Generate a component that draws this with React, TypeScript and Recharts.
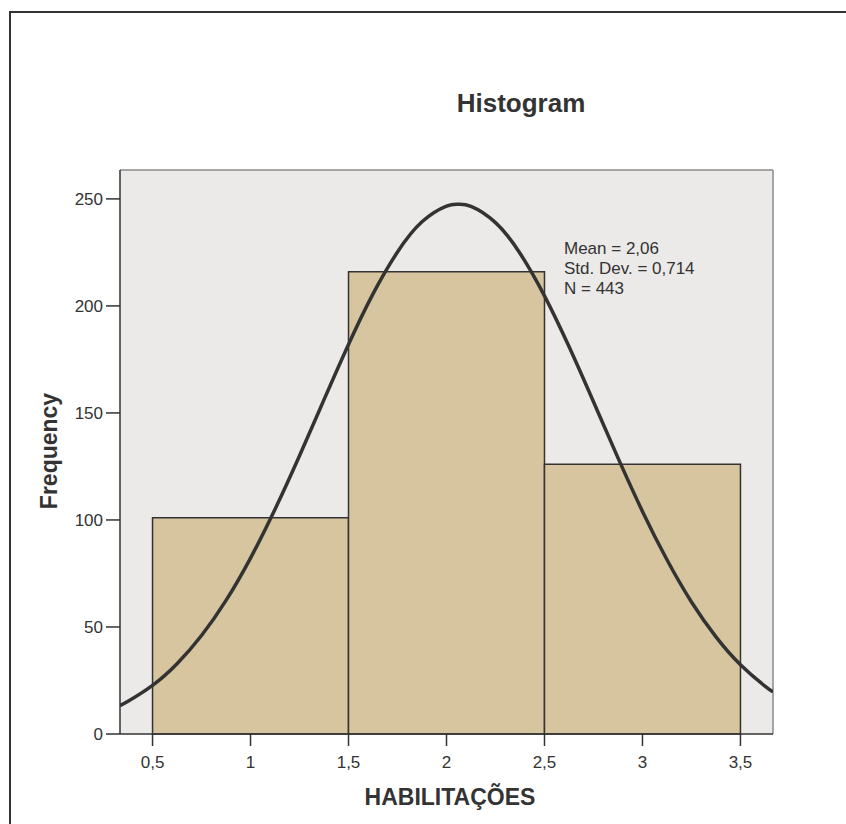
import React from 'react'
import { ComposedChart, Line, XAxis, YAxis, CartesianGrid, ReferenceArea, ReferenceLine } from 'recharts'

// histogram bins of HABILITAÇÕES
const binStart = [0.5, 1.5, 2.5]
const binEnd = [1.5, 2.5, 3.5]
const binCount = [101, 216, 126]

// normal curve
const curveX = [0.334, 0.375, 0.5, 0.625, 0.75, 0.875, 1, 1.125, 1.25, 1.375, 1.5, 1.625, 1.75, 1.875, 2, 2.06, 2.125, 2.25, 2.375, 2.5, 2.625, 2.75, 2.875, 3, 3.125, 3.25, 3.375, 3.5, 3.625, 3.666]
const curveY = [13.3, 15.3, 22.7, 32.8, 46, 62.4, 82.2, 105, 130, 156.2, 182, 205.6, 225.2, 239.3, 246.6, 247.5, 246.5, 238.9, 224.6, 204.7, 181, 155.2, 129, 104, 81.4, 61.7, 45.4, 32.4, 22.4, 19.7]

const xTicks = [0.5, 1, 1.5, 2, 2.5, 3, 3.5]
const yTicks = [0, 50, 100, 150, 200, 250]
const statLines = ['Mean = 2,06', 'Std. Dev. = 0,714', 'N = 443']

const xMin = 0.334
const xMax = 3.666
const yMax = 263.5

const font = '"Liberation Sans", Arial, sans-serif'
const ink = '#333333'

const XTick = (props: any) => {
  const { x, y, payload } = props
  return (
    <text x={x} y={y + 17} textAnchor="middle" fontSize={17} fill={ink} fontFamily={font}>
      {String(payload.value).replace('.', ',')}
    </text>
  )
}

const YTick = (props: any) => {
  const { x, y, payload } = props
  return (
    <text x={x} y={y + 6} textAnchor="end" fontSize={17} fill={ink} fontFamily={font}>
      {payload.value}
    </text>
  )
}

export default function App() {
  const data = curveX.map((x, i) => ({ x, y: curveY[i] }))

  return (
    <div style={{ position: 'absolute', left: 0, top: 0, width: 846, height: 824, overflow: 'hidden', background: '#fff', fontFamily: font }}>
      <div style={{ position: 'absolute', left: 0, top: 0 }}>
        <ComposedChart width={846} height={824} data={data} margin={{ top: 170, right: 73, bottom: 50, left: 0 }}>
          <CartesianGrid horizontal={false} vertical={false} fill="#EBEAE8" fillOpacity={1} />
          <XAxis
            dataKey="x"
            type="number"
            domain={[xMin, xMax]}
            ticks={xTicks}
            allowDataOverflow
            height={40}
            tickSize={12}
            tickMargin={5}
            tick={<XTick />}
            axisLine={{ stroke: ink, strokeWidth: 1.5 }}
            tickLine={{ stroke: ink, strokeWidth: 1.5 }}
          />
          <YAxis
            type="number"
            domain={[0, yMax]}
            ticks={yTicks}
            allowDataOverflow
            width={120}
            tickSize={14}
            tickMargin={3}
            tick={<YTick />}
            axisLine={{ stroke: ink, strokeWidth: 1.5 }}
            tickLine={{ stroke: ink, strokeWidth: 1.5 }}
          />
          <ReferenceLine y={yMax} stroke="#8a8a8a" strokeWidth={1.5} />
          <ReferenceLine x={xMax} stroke="#8a8a8a" strokeWidth={1.5} />
          {binCount.map((c, i) => (
            <ReferenceArea
              key={i}
              x1={binStart[i]}
              x2={binEnd[i]}
              y1={0}
              y2={c}
              fill="#D6C59E"
              fillOpacity={1}
              stroke={ink}
              strokeWidth={1.5}
            />
          ))}
          <Line dataKey="y" type="natural" stroke={ink} strokeWidth={3.5} dot={false} isAnimationActive={false} />
        </ComposedChart>
      </div>
      <svg width={846} height={824} style={{ position: 'absolute', left: 0, top: 0, pointerEvents: 'none' }}>
        <polyline points="10,824 10,12 846,12" fill="none" stroke={ink} strokeWidth={2} />
        <text x={521} y={112} textAnchor="middle" fontSize={26} fontWeight="bold" fill={ink} fontFamily={font}>Histogram</text>
        {statLines.map((s, i) => (
          <text key={i} x={564} y={254 + i * 20} fontSize={17} fill={ink} fontFamily={font}>{s}</text>
        ))}
        <text transform="translate(57,451) rotate(-90)" textAnchor="middle" fontSize={23} fontWeight="bold" fill={ink} fontFamily={font}>Frequency</text>
        <text x={450} y={805} textAnchor="middle" fontSize={23} fontWeight="bold" fill={ink} fontFamily={font}>HABILITAÇÕES</text>
      </svg>
    </div>
  )
}
